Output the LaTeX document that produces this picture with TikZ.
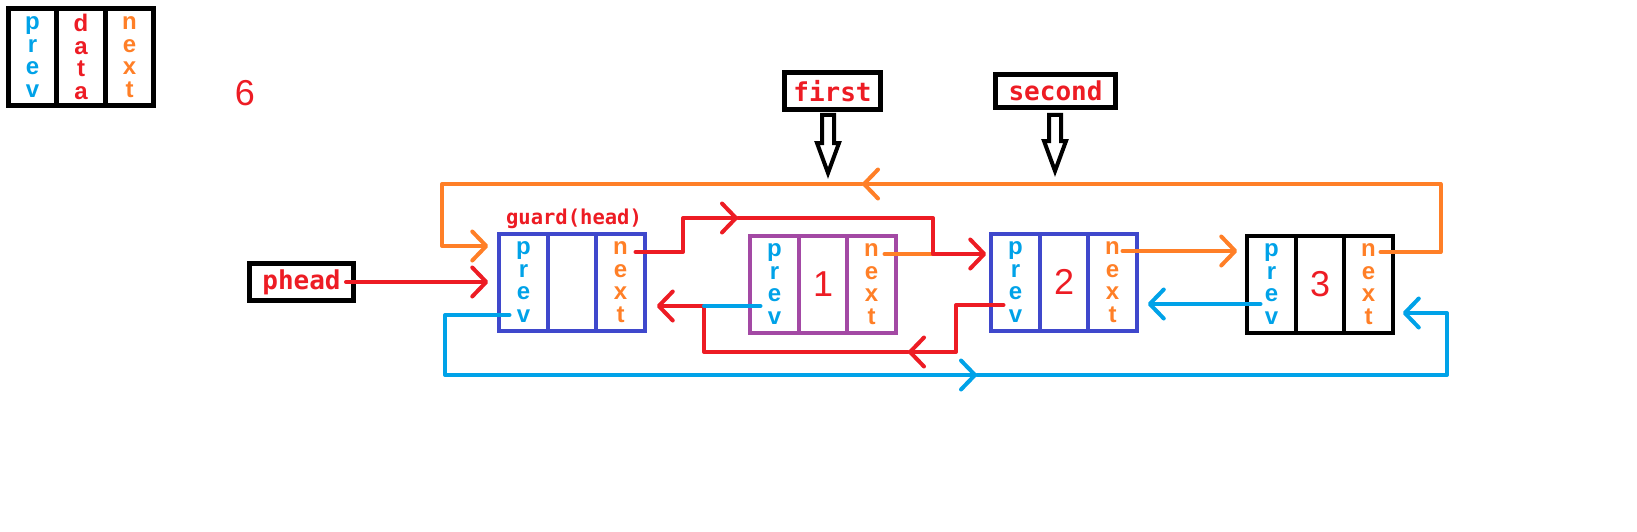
\documentclass[tikz,border=0pt]{standalone}
\usepackage{fontspec}
\setmainfont{Liberation Sans}
\newfontfamily\codefont{DejaVu Sans Mono}
\usetikzlibrary{positioning,calc,arrows.meta}
\definecolor{paintblue}{HTML}{3F48CC}
\definecolor{paintpurple}{HTML}{A349A4}
\definecolor{paintred}{HTML}{ED1C24}
\definecolor{paintorange}{HTML}{FF7F27}
\definecolor{paintcyan}{HTML}{00A2E8}
\tikzset{
  cell/.style={draw,line width=4pt,outer sep=0pt,inner sep=0pt,minimum width=48.5pt,minimum height=97pt,align=center},
  prevtxt/.style={text=paintcyan,font=\bfseries\fontsize{24}{22.5}\selectfont},
  nexttxt/.style={text=paintorange,font=\bfseries\fontsize{24}{22.5}\selectfont},
  datatxt/.style={text=paintred,font=\fontsize{36}{40}\selectfont},
  pointer/.style={draw,line width=5pt,inner sep=0pt,minimum height=37pt,text=paintred,font=\codefont\bfseries\fontsize{26}{30}\selectfont},
  wire/.style={line width=4pt,line cap=round,line join=round},
  headto/.style={-{Straight Barb[length=14pt,width=29pt,line cap=round,line join=round]}},
  fatarrow/.style={draw=black,line width=4pt,line join=miter}
}

\begin{document}
\begin{tikzpicture}[x=1pt,y=-1pt]
  \useasboundingbox (0,0) rectangle (1637,532);

  % Legend
  \node[cell,line width=5pt,prevtxt] (key-prev) at (32.5,57) {p\\r\\e\\v};
  \node[cell,line width=5pt,text=paintred,font=\bfseries\fontsize{24}{22.5}\selectfont] (key-data) [right=0pt of key-prev] {d\\a\\t\\a};
  \node[cell,line width=5pt,nexttxt] (key-next) [right=0pt of key-data] {n\\e\\x\\t};
  \node[datatxt] (six) at (245,93) {6};

  % Guard node
  \node[cell,draw=paintblue,prevtxt] (g-prev) at (523.5,282) {p\\r\\e\\v};
  \node[cell,draw=paintblue] (g-data) [right=0pt of g-prev] {};
  \node[cell,draw=paintblue,nexttxt] (g-next) [right=0pt of g-data] {n\\e\\x\\t};
  \node[anchor=base,text=paintred,font=\codefont\bfseries\fontsize{20.5}{24}\selectfont] (guard-lbl) at ($(g-data.north)+(2,-9)$) {guard(head)};

  % Node 1
  \node[cell,draw=paintpurple,prevtxt] (n1-prev) at (774.5,284) {p\\r\\e\\v};
  \node[cell,draw=paintpurple,datatxt] (n1-data) [right=0pt of n1-prev] {1};
  \node[cell,draw=paintpurple,nexttxt] (n1-next) [right=0pt of n1-data] {n\\e\\x\\t};

  % Node 2
  \node[cell,draw=paintblue,prevtxt] (n2-prev) at (1015.5,282) {p\\r\\e\\v};
  \node[cell,draw=paintblue,datatxt] (n2-data) [right=0pt of n2-prev] {2};
  \node[cell,draw=paintblue,nexttxt] (n2-next) [right=0pt of n2-data] {n\\e\\x\\t};

  % Node 3
  \node[cell,draw=black,prevtxt] (n3-prev) at (1271.5,284) {p\\r\\e\\v};
  \node[cell,draw=black,datatxt] (n3-data) [right=0pt of n3-prev] {3};
  \node[cell,draw=black,nexttxt] (n3-next) [right=0pt of n3-data] {n\\e\\x\\t};

  % Pointers
  \node[pointer,minimum width=104pt] (phead) at (301.5,282) {phead};
  \node[pointer,minimum width=96pt] (first) at (832.5,91) {first};
  \node[pointer,minimum width=120pt,minimum height=33pt] (second) at (1055.5,91) {second};
  \draw[fatarrow] ($(first.south)+(-10.5,3)$) -- ++(0,28) -- ++(-5,0) -- ++(11,30) -- ++(11,-30) -- ++(-5,0) -- ++(0,-28) -- cycle;
  \draw[fatarrow] ($(second.south)+(-6.5,5)$) -- ++(0,26) -- ++(-5,0) -- ++(11,30) -- ++(11,-30) -- ++(-5,0) -- ++(0,-26) -- cycle;

  % Mid-line arrow points
  \coordinate (orange-mid) at (862,184);
  \coordinate (red-top) at (738,218);
  \coordinate (red-bot) at (908,352);
  \coordinate (blue-mid) at (977,375);

  % next links (orange)
  \draw[wire,paintorange,headto] ($(n2-next.center)+(10,-31)$) -- ($(n3-prev.west)+(-10,-33)$);
  \draw[wire,paintorange,headto] ($(n3-next.center)+(12,-32)$) -- ++(60,0) |- (orange-mid);
  \draw[wire,paintorange,headto] (orange-mid) -- (442,184) |- ($(g-prev.west)+(-11,-36)$);
  \draw[wire,paintorange] ($(n1-next.center)+(13,-30)$) -- (933,254);

  % red links
  \draw[wire,paintred,headto] ($(phead.east)+(-10,0)$) -- ($(g-prev.west)+(-11,0)$);
  \draw[wire,paintred,headto] ($(g-next.center)+(15,-30)$) -- (683,252) |- (red-top);
  \draw[wire,paintred,headto] (red-top) -| (933,254) -- ($(n2-prev.west)+(-5,-28)$);
  \draw[wire,paintred,headto] ($(n2-prev.center)+(-12,23)$) -- (956,305) |- (red-bot);
  \draw[wire,paintred,headto] (red-bot) -| (704,306) -- ($(g-next.east)+(12,24)$);

  % prev links (blue)
  \draw[wire,paintcyan] ($(n1-prev.center)+(-14,22)$) -- (704,306);
  \draw[wire,paintcyan,headto] ($(n3-prev.center)+(-11,20)$) -- ($(n2-next.east)+(11,22)$);
  \draw[wire,paintcyan,headto] ($(g-prev.center)+(-14,33)$) -- (445,315) |- (blue-mid);
  \draw[wire,paintcyan,headto] (blue-mid) -| (1447,313) -- ($(n3-next.east)+(10,29)$);
\end{tikzpicture}
\end{document}
